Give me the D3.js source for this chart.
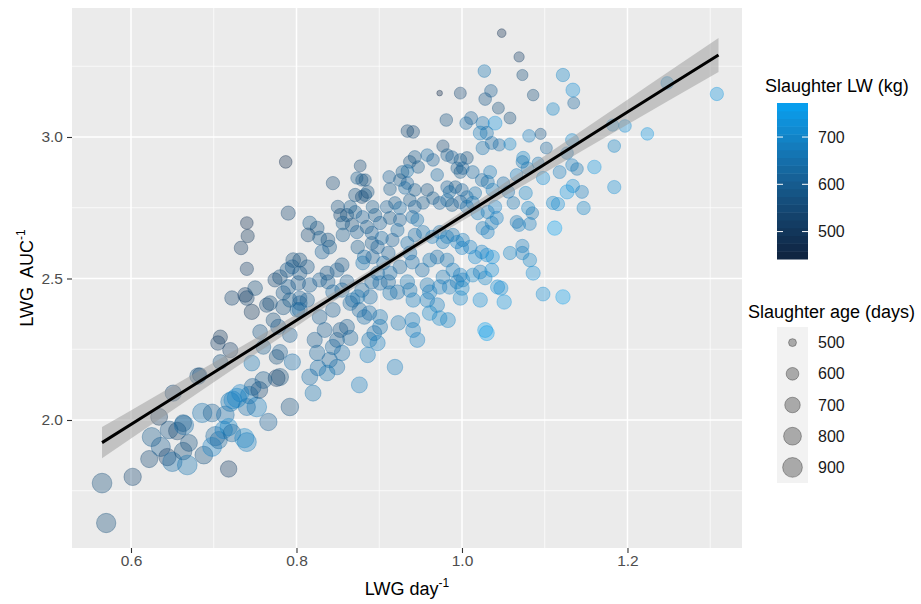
<!DOCTYPE html>
<meta charset="utf-8">
<script src="https://d3js.org/d3.v7.min.js"></script>
<style>
  body { margin: 0; background: #fff; }
  text { font-family: 'Liberation Sans', Arial, sans-serif; }
</style>
<div id="chart"></div>
<script>

// LWG day^-1 (x), LWG AUC^-1 (y), slaughter age (size) and slaughter LW (colour)
var lwgDay = [
  0.565,0.570,0.602,0.622,0.634,0.651,0.625,0.636,0.646,0.656,
  0.664,0.644,0.650,0.663,0.668,0.670,0.686,0.688,0.698,0.702,
  0.698,0.706,0.714,0.712,0.718,0.722,0.718,0.720,0.728,0.737,
  0.743,0.752,0.755,0.766,0.792,0.776,0.760,0.747,0.740,0.732,
  0.723,0.681,0.663,0.740,0.780,
  0.787,0.740,0.741,0.733,0.740,0.790,0.722,0.738,0.740,0.746,
  0.750,0.756,0.708,0.705,0.720,0.708,0.683,0.768,0.774,0.780,
  0.789,0.796,0.795,0.784,0.790,0.802,0.804,0.801,0.784,0.772,
  0.778,0.792,0.780,0.776,0.795,0.760,0.746,0.792,0.764,
  0.981,1.005,1.011,1.025,1.040,1.022,1.030,1.025,1.036,0.934,
  0.941,0.977,0.982,0.988,1.006,0.998,0.958,0.965,0.943,0.937,
  0.947,0.934,0.928,0.970,0.994,0.998,1.001,1.013,1.034,1.031,
  1.024,0.877,0.879,0.873,0.883,0.844,0.912,0.925,0.934,0.913,
  0.931,0.943,0.958,0.982,0.992,0.985,1.000,1.006,1.016,1.037,
  0.871,0.883,0.886,0.850,0.865,0.879,0.892,0.853,0.861,0.871,
  0.880,0.895,0.909,0.919,0.925,0.937,0.943,0.953,0.965,0.973,
  0.982,0.988,0.998,1.006,1.013,1.019,1.031,1.040,0.816,0.825,
  0.814,0.828,0.838,0.840,0.831,0.856,0.867,0.856,0.873,0.885,
  0.891,0.901,0.913,0.925,0.940,0.946,0.922,0.916,0.903,0.891,
  0.898,0.874,0.882,0.880,0.892,0.905,0.911,0.934,0.943,0.953,
  0.964,0.973,0.982,0.977,0.989,0.994,1.001,1.000,1.010,1.016,
  1.024,1.030,1.037,1.025,1.031,1.036,1.042,0.804,0.813,0.804,
  0.816,0.828,0.838,0.837,0.849,0.855,0.844,0.855,0.861,0.868,
  0.879,0.874,0.891,0.889,0.898,0.913,0.925,0.937,0.940,0.952,
  0.961,0.970,0.982,0.989,0.977,0.998,0.994,1.001,1.013,1.022,
  1.028,1.036,1.043,0.901,0.911,0.913,0.922,0.934,0.937,0.941,
  0.958,0.961,0.973,0.985,1.000,0.998,0.958,0.970,0.961,0.973,
  0.983,1.022,1.028,1.030,0.923,0.940,0.941,0.946,0.901,0.901,
  0.894,0.888,0.898,0.886,0.919,0.876,0.849,0.853,0.861,0.865,
  0.844,0.855,0.840,0.849,0.826,0.837,0.816,0.820,0.825,0.822,
  0.834,0.828,0.844,0.865,0.876,0.882,0.888,0.804,0.813,0.804,
  0.973,0.998,1.027,1.035,1.028,
  1.048,1.069,1.073,1.086,1.044,1.110,1.058,1.045,1.058,1.081,
  1.095,1.102,1.050,1.066,1.074,1.073,1.079,1.092,1.098,1.077,
  1.062,1.056,1.080,1.085,1.066,1.069,1.082,1.112,1.110,1.116,
  1.122,1.134,1.135,1.248,1.308,1.133,1.127,1.182,1.197,1.224,
  1.184,1.118,1.133,1.139,1.160,1.134,1.127,1.145,1.147,1.184,
  1.058,1.073,1.073,1.082,1.086,1.047,1.051,1.098,1.122
];

var lwgAuc = [
  1.777,1.636,1.799,1.862,2.011,2.095,1.940,1.905,1.965,1.961,
  1.982,1.869,1.852,1.890,1.841,1.919,2.025,1.876,2.025,1.943,
  1.905,1.929,2.018,1.965,1.975,1.954,1.827,2.064,2.078,1.936,
  2.088,2.046,2.106,1.993,2.046,2.148,2.141,2.117,2.046,2.095,
  2.071,2.155,1.989,1.922,2.152,
  2.912,2.696,2.650,2.608,2.534,2.731,2.431,2.442,2.431,2.382,
  2.466,2.311,2.293,2.272,2.247,2.205,2.159,2.413,2.495,2.505,
  2.530,2.565,2.541,2.449,2.470,2.484,2.431,2.389,2.399,2.353,
  2.329,2.300,2.240,2.223,2.205,2.258,2.201,2.424,2.406,
  3.060,3.049,3.067,3.049,3.049,3.014,3.014,2.961,2.979,3.021,
  3.018,2.968,2.936,2.929,2.926,2.919,2.936,2.919,2.929,2.912,
  2.894,2.880,2.876,2.866,2.890,2.876,2.890,2.876,2.876,2.841,
  2.848,2.898,2.848,2.855,2.848,2.837,2.859,2.848,2.837,2.816,
  2.820,2.813,2.813,2.823,2.823,2.806,2.813,2.788,2.802,2.813,
  2.795,2.795,2.806,2.753,2.753,2.788,2.753,2.724,2.724,2.735,
  2.717,2.724,2.753,2.767,2.749,2.777,2.753,2.767,2.784,2.767,
  2.777,2.760,2.770,2.753,2.767,2.731,2.735,2.753,2.696,2.678,
  2.654,2.643,2.636,2.611,2.594,2.696,2.689,2.654,2.664,2.682,
  2.661,2.696,2.714,2.707,2.717,2.707,2.671,2.636,2.643,2.625,
  2.611,2.611,2.576,2.555,2.576,2.555,2.590,2.625,2.654,2.664,
  2.647,2.664,2.647,2.629,2.654,2.629,2.636,2.608,2.611,2.576,
  2.594,2.583,2.576,2.678,2.664,2.696,2.714,2.565,2.541,2.519,
  2.477,2.495,2.488,2.519,2.530,2.548,2.452,2.459,2.488,2.424,
  2.459,2.435,2.488,2.435,2.519,2.519,2.541,2.590,2.558,2.530,
  2.565,2.576,2.565,2.530,2.505,2.512,2.488,2.495,2.512,2.523,
  2.502,2.530,2.470,2.484,2.488,2.449,2.452,2.488,2.459,2.424,
  2.477,2.452,2.470,2.470,2.466,2.431,2.424,2.406,2.378,2.360,
  2.353,2.424,2.318,2.307,2.343,2.353,2.318,2.283,2.364,2.329,
  2.307,2.283,2.272,2.230,2.187,2.124,2.283,2.318,2.329,2.290,
  2.258,2.237,2.212,2.187,2.184,2.166,2.152,2.095,2.237,2.283,
  2.318,2.364,2.389,2.413,2.389,2.364,2.378,2.413,2.424,2.389,
  3.155,3.155,3.233,3.163,3.134,
  3.367,3.283,3.219,3.148,3.102,3.099,3.067,2.972,2.975,3.004,
  3.011,2.961,2.837,2.866,2.926,2.912,2.890,2.908,2.855,2.802,
  2.767,2.806,2.749,2.731,2.700,2.689,2.693,2.678,2.767,2.763,
  3.219,3.166,3.120,3.191,3.152,2.989,2.943,3.042,3.039,3.011,
  2.968,2.876,2.901,2.887,2.894,2.827,2.806,2.806,2.749,2.823,
  2.590,2.615,2.590,2.565,2.519,2.466,2.417,2.445,2.435
];

var ageDays = [
  900,880,780,770,760,730,860,870,800,790,
  880,780,880,790,900,760,880,800,800,880,
  860,780,800,790,780,790,740,870,880,880,
  790,900,760,780,790,760,760,760,770,780,
  800,740,760,860,770,
  600,600,620,630,620,650,660,670,670,690,
  670,670,650,660,690,670,660,670,650,670,
  670,670,650,660,670,670,650,670,690,660,
  690,670,690,670,730,670,710,660,660,
  600,600,610,620,640,640,620,620,610,600,
  600,590,600,600,600,600,600,600,610,600,
  600,600,610,600,590,600,600,610,610,620,
  610,580,590,590,590,620,600,600,600,600,
  600,600,600,600,600,600,600,600,600,620,
  620,610,610,620,610,610,610,620,620,610,
  610,620,600,600,610,600,610,600,600,610,
  610,610,620,620,620,620,620,620,640,640,
  640,640,640,640,650,630,630,630,620,620,
  620,620,610,610,610,610,620,620,620,620,
  630,630,640,640,630,630,630,620,620,620,
  620,620,620,620,620,620,620,620,630,630,
  630,630,630,620,620,620,620,650,650,650,
  660,650,650,650,650,650,660,660,650,660,
  660,660,650,660,650,650,640,640,640,640,
  640,640,640,640,640,640,640,640,640,640,
  640,640,650,660,660,660,660,660,660,660,
  660,660,660,660,660,660,670,670,670,670,
  680,660,680,680,670,680,680,680,680,680,
  680,690,690,700,700,720,680,680,680,690,
  690,700,700,700,710,710,720,720,700,690,
  680,670,670,670,670,670,670,670,660,680,
  482,580,600,600,600,
  510,540,560,570,580,600,580,590,590,600,
  560,580,600,600,620,600,600,580,620,620,
  600,600,620,600,610,610,610,660,620,620,
  620,640,580,600,620,610,600,590,600,600,
  600,610,600,600,630,620,650,610,620,620,
  620,620,620,630,650,650,660,640,660
];

var slaughterLW = [
  560,560,540,550,500,540,590,600,580,530,
  640,520,640,560,660,570,650,570,600,620,
  690,620,640,690,700,620,520,660,700,700,
  660,680,540,610,570,520,590,600,640,690,
  690,560,590,680,560,
  470,480,500,510,520,540,540,520,530,500,
  560,580,500,520,520,560,550,560,540,560,
  580,560,600,580,600,580,600,620,570,560,
  580,600,600,560,640,590,660,590,550,
  570,630,610,650,730,670,650,650,630,550,
  550,550,590,610,570,590,630,610,590,570,
  590,650,590,630,590,590,610,630,670,650,
  630,550,570,590,570,550,610,590,610,590,
  630,590,570,610,590,630,610,630,650,670,
  570,590,570,570,590,550,590,550,570,590,
  610,590,610,590,630,590,610,590,590,610,
  630,590,610,630,650,670,670,690,590,570,
  550,590,570,590,610,590,570,590,610,590,
  610,610,590,610,630,650,630,610,630,590,
  610,590,630,650,610,630,610,650,630,650,
  670,650,670,670,650,690,670,690,690,710,
  690,710,730,670,690,670,690,560,580,580,
  600,600,600,580,600,580,620,620,600,640,
  620,660,620,640,620,640,620,640,640,640,
  660,640,660,680,660,680,660,680,700,680,
  700,720,720,640,620,660,640,660,660,680,
  660,680,680,680,700,700,680,680,700,700,
  700,720,760,760,660,680,680,690,660,660,
  640,660,680,680,680,680,600,580,600,620,
  620,640,620,640,640,660,640,660,620,600,
  600,600,600,620,620,640,640,600,600,620,
  470,540,660,600,580,
  480,520,560,560,560,700,560,640,700,680,
  580,620,640,680,700,660,660,660,720,700,
  660,640,700,660,660,680,680,770,700,720,
  700,720,620,720,740,700,660,700,720,740,
  700,680,680,660,740,720,740,680,700,720,
  700,680,680,700,720,720,740,720,760
];

// linear fit with its confidence band, read at a few x positions
var fitX  = [0.565, 0.62, 0.70, 0.78, 0.85, 0.93, 1.00, 1.05, 1.10, 1.20, 1.25, 1.31];
var fitY  = [1.920, 2.021, 2.168, 2.315, 2.444, 2.591, 2.720, 2.812, 2.904, 3.088, 3.180, 3.290];
var fitLo = [1.865, 1.974, 2.133, 2.291, 2.428, 2.579, 2.703, 2.789, 2.874, 3.044, 3.129, 3.230];
var fitHi = [1.975, 2.068, 2.203, 2.339, 2.460, 2.603, 2.737, 2.835, 2.934, 3.132, 3.231, 3.350];

// axes and scales
var xDomain = [0.5287, 1.3384];
var yDomain = [1.5477, 3.4558];
var xTicks = [0.6, 0.8, 1.0, 1.2];
var xMinor = [0.7, 0.9, 1.1, 1.3];
var yTicks = [2.0, 2.5, 3.0];
var yMinor = [1.75, 2.25, 2.75, 3.25];
var lwDomain = [442, 772];
var lwTicks = [500, 600, 700];
var ageDomain = [480, 950];
var ageTicks = [500, 600, 700, 800, 900];

var width = 921, height = 604;
var panel = {left: 72, right: 742, top: 8, bottom: 548};
var alpha = 0.35;

var svg = d3.select("#chart").append("svg")
    .attr("width", width)
    .attr("height", height);

svg.append("rect").attr("width", width).attr("height", height).attr("fill", "#fff");

var x = d3.scaleLinear().domain(xDomain).range([panel.left, panel.right]);
var y = d3.scaleLinear().domain(yDomain).range([panel.bottom, panel.top]);

var color = d3.scaleLinear()
    .domain(lwDomain)
    .range(["#0E223E", "#06A2F2"])
    .interpolate(d3.interpolateLab);

var ageT = d3.scaleLinear().domain(ageDomain).range([0, 1]).clamp(true);
var rad = d3.scaleLinear().domain([0, 1]).range([2.8, 10.8]);
function radius(a) { return rad(Math.sqrt(ageT(a))); }

// panel
svg.append("rect")
    .attr("x", panel.left).attr("y", panel.top)
    .attr("width", panel.right - panel.left)
    .attr("height", panel.bottom - panel.top)
    .attr("fill", "#EBEBEB");

svg.append("clipPath").attr("id", "clip")
  .append("rect")
    .attr("x", panel.left).attr("y", panel.top)
    .attr("width", panel.right - panel.left)
    .attr("height", panel.bottom - panel.top);

var grid = svg.append("g");
grid.selectAll(".vminor").data(xMinor).join("line")
    .attr("x1", d => x(d)).attr("x2", d => x(d))
    .attr("y1", panel.top).attr("y2", panel.bottom)
    .attr("stroke", "#fff").attr("stroke-width", 0.7);
grid.selectAll(".hminor").data(yMinor).join("line")
    .attr("y1", d => y(d)).attr("y2", d => y(d))
    .attr("x1", panel.left).attr("x2", panel.right)
    .attr("stroke", "#fff").attr("stroke-width", 0.7);
grid.selectAll(".vmajor").data(xTicks).join("line")
    .attr("x1", d => x(d)).attr("x2", d => x(d))
    .attr("y1", panel.top).attr("y2", panel.bottom)
    .attr("stroke", "#fff").attr("stroke-width", 1.5);
grid.selectAll(".hmajor").data(yTicks).join("line")
    .attr("y1", d => y(d)).attr("y2", d => y(d))
    .attr("x1", panel.left).attr("x2", panel.right)
    .attr("stroke", "#fff").attr("stroke-width", 1.5);

// points
var n = Math.min(lwgDay.length, lwgAuc.length, ageDays.length, slaughterLW.length);
var pts = d3.range(n).map(function(i) {
  return {x: lwgDay[i], y: lwgAuc[i], age: ageDays[i], lw: slaughterLW[i]};
});

var plot = svg.append("g").attr("clip-path", "url(#clip)");

plot.selectAll("circle").data(pts).join("circle")
    .attr("cx", d => x(d.x))
    .attr("cy", d => y(d.y))
    .attr("r", d => radius(d.age) - 0.5)
    .attr("fill", d => color(d.lw))
    .attr("fill-opacity", alpha)
    .attr("stroke", d => color(d.lw))
    .attr("stroke-opacity", alpha)
    .attr("stroke-width", 1);

// smooth
var fit = fitX.map(function(v, i) { return {x: v, y: fitY[i], lo: fitLo[i], hi: fitHi[i]}; });

plot.append("path").datum(fit)
    .attr("d", d3.area().x(d => x(d.x)).y0(d => y(d.lo)).y1(d => y(d.hi)).curve(d3.curveMonotoneX))
    .attr("fill", "#999999").attr("fill-opacity", 0.5);

plot.append("path").datum(fit)
    .attr("d", d3.line().x(d => x(d.x)).y(d => y(d.y)))
    .attr("fill", "none").attr("stroke", "#000").attr("stroke-width", 3);

// axes
var xAxis = svg.append("g")
    .attr("transform", "translate(0," + panel.bottom + ")")
    .call(d3.axisBottom(x).tickValues(xTicks).tickFormat(d3.format(".1f")).tickSize(5).tickPadding(2));
var yAxis = svg.append("g")
    .attr("transform", "translate(" + panel.left + ",0)")
    .call(d3.axisLeft(y).tickValues(yTicks).tickFormat(d3.format(".1f")).tickSize(5).tickPadding(4));

[xAxis, yAxis].forEach(function(ax) {
  ax.select(".domain").remove();
  ax.selectAll(".tick line").attr("stroke", "#333").attr("stroke-width", 1.1);
  ax.selectAll(".tick text")
      .attr("fill", "#4D4D4D")
      .style("font-size", "15.5px")
      .style("font-family", "'Liberation Sans', Arial, sans-serif");
});

// axis titles
var xt = svg.append("text")
    .attr("x", (panel.left + panel.right) / 2)
    .attr("y", 595)
    .attr("text-anchor", "middle")
    .style("font-size", "18px")
    .attr("fill", "#000");
xt.append("tspan").text("LWG day");
xt.append("tspan").attr("dy", -8).style("font-size", "12px").text("-1");

var yt = svg.append("text")
    .attr("transform", "translate(33," + ((panel.top + panel.bottom) / 2) + ") rotate(-90)")
    .attr("text-anchor", "middle")
    .style("font-size", "18px")
    .style("white-space", "pre")
    .attr("fill", "#000");
yt.append("tspan").text("LWG  AUC");
yt.append("tspan").attr("dy", -8).style("font-size", "12px").text("-1");

// colour bar legend
var cb = {x: 777, y: 103, w: 31, h: 156};
svg.append("text")
    .attr("x", 765).attr("y", 92)
    .style("font-size", "18px")
    .attr("fill", "#000")
    .text("Slaughter LW (kg)");

var cbScale = d3.scaleLinear().domain(lwDomain).range([cb.y + cb.h, cb.y]);
var nbin = 20;
var bins = d3.range(nbin).map(function(i) {
  return lwDomain[0] + (lwDomain[1] - lwDomain[0]) * i / nbin;
});
var binStep = (lwDomain[1] - lwDomain[0]) / nbin;
svg.append("g").selectAll("rect").data(bins).join("rect")
    .attr("x", cb.x)
    .attr("y", d => cbScale(d + binStep))
    .attr("width", cb.w)
    .attr("height", d => cbScale(d) - cbScale(d + binStep) + 0.5)
    .attr("fill", d => color(d + binStep / 2));

var cbTicks = svg.append("g");
cbTicks.selectAll(".l").data(lwTicks).join("line")
    .attr("x1", cb.x).attr("x2", cb.x + 6)
    .attr("y1", d => cbScale(d)).attr("y2", d => cbScale(d))
    .attr("stroke", "#fff").attr("stroke-width", 1);
cbTicks.selectAll(".r").data(lwTicks).join("line")
    .attr("x1", cb.x + cb.w - 6).attr("x2", cb.x + cb.w)
    .attr("y1", d => cbScale(d)).attr("y2", d => cbScale(d))
    .attr("stroke", "#fff").attr("stroke-width", 1);
svg.append("g").selectAll("text").data(lwTicks).join("text")
    .attr("x", cb.x + cb.w + 10)
    .attr("y", d => cbScale(d) + 5.5)
    .style("font-size", "16px")
    .attr("fill", "#1A1A1A")
    .text(d => d);

// size legend
var key = {x: 777, y: 327, w: 31, h: 31.2};
svg.append("text")
    .attr("x", 748).attr("y", 318)
    .style("font-size", "18px")
    .attr("fill", "#000")
    .text("Slaughter age (days)");

svg.append("rect")
    .attr("x", key.x).attr("y", key.y)
    .attr("width", key.w).attr("height", key.h * ageTicks.length)
    .attr("fill", "#F2F2F2");

var keys = svg.append("g").selectAll("g").data(ageTicks).join("g")
    .attr("transform", (d, i) => "translate(" + (key.x + key.w / 2) + "," + (key.y + key.h * (i + 0.5)) + ")");
keys.append("circle")
    .attr("r", d => radius(d) - 0.5)
    .attr("fill", "#000").attr("fill-opacity", 0.3)
    .attr("stroke", "#000").attr("stroke-opacity", 0.3).attr("stroke-width", 1);
keys.append("text")
    .attr("x", key.w / 2 + 10)
    .attr("y", 5.5)
    .style("font-size", "16px")
    .attr("fill", "#1A1A1A")
    .text(d => d);

</script>
